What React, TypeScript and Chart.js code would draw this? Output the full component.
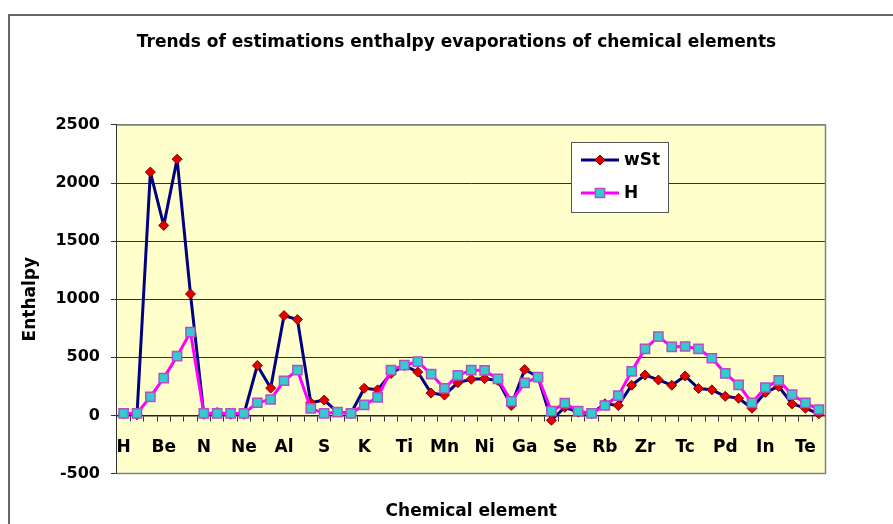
import React, { useEffect, useRef } from 'react';
import { Chart, registerables } from 'chart.js';

Chart.register(...registerables);

const categories = [
  'H', 'He', 'Li', 'Be', 'B', 'C', 'N', 'O', 'F', 'Ne',
  'Na', 'Mg', 'Al', 'Si', 'P', 'S', 'Cl', 'Ar', 'K', 'Ca',
  'Sc', 'Ti', 'V', 'Cr', 'Mn', 'Fe', 'Co', 'Ni', 'Cu', 'Zn',
  'Ga', 'Ge', 'As', 'Se', 'Br', 'Kr', 'Rb', 'Sr', 'Y', 'Zr',
  'Nb', 'Mo', 'Tc', 'Ru', 'Rh', 'Pd', 'Ag', 'Cd', 'In', 'Sn',
  'Sb', 'Te', 'I',
];

const wStValues = [
  15, 5, 2094, 1635, 2205, 1045, 10, 25, 10, 10,
  430, 235, 859, 825, 109, 132, 29, 17, 234, 220,
  360, 430, 373, 192, 175, 282, 311, 316, 300, 85,
  395, 330, -42, 70, 28, 15, 100, 85, 260, 348,
  305, 260, 339, 232, 220, 164, 147, 62, 198, 249,
  99, 62, 14,
];

const hValues = [
  17, 17, 160, 321, 510, 716, 17, 17, 17, 17,
  109, 137, 298, 390, 60, 17, 29, 17, 90, 155,
  390, 432, 463, 356, 232, 345, 390, 387, 314, 121,
  280, 330, 37, 105, 37, 17, 85, 170, 379, 573,
  678, 590, 593, 573, 492, 362, 263, 107, 240, 302,
  178, 107, 51,
];

const seriesNames = ['wSt', 'H'];
const yMin = -500;
const yMax = 2500;
const yStep = 500;
const labelEvery = 3;

const titleText = 'Trends of estimations enthalpy evaporations of chemical elements';
const xTitle = 'Chemical element';
const yTitle = 'Enthalpy';

const FONT = '"DejaVu Sans", "Liberation Sans", Arial, sans-serif';

const plotAreaPlugin = {
  id: 'plotArea',
  beforeDraw(chart: any) {
    const { ctx, chartArea } = chart;
    ctx.save();
    ctx.fillStyle = '#FFFFCC';
    ctx.fillRect(chartArea.left, chartArea.top, chartArea.right - chartArea.left, chartArea.bottom - chartArea.top);
    ctx.restore();
  },
  beforeDatasetsDraw(chart: any) {
    const { ctx, chartArea } = chart;
    ctx.save();
    ctx.strokeStyle = '#808080';
    ctx.lineWidth = 1.5;
    ctx.beginPath();
    ctx.moveTo(chartArea.left, chartArea.top);
    ctx.lineTo(chartArea.right, chartArea.top);
    ctx.lineTo(chartArea.right, chartArea.bottom);
    ctx.lineTo(chartArea.left, chartArea.bottom);
    ctx.stroke();
    ctx.restore();
  },
};

function drawMarker(ctx: CanvasRenderingContext2D, style: string, x: number, y: number, r: number) {
  ctx.beginPath();
  if (style === 'rectRot') {
    ctx.moveTo(x, y - r);
    ctx.lineTo(x + r, y);
    ctx.lineTo(x, y + r);
    ctx.lineTo(x - r, y);
    ctx.closePath();
  } else {
    const s = r * Math.SQRT1_2;
    ctx.rect(x - s, y - s, 2 * s, 2 * s);
  }
  ctx.fill();
  ctx.stroke();
}

const legendPlugin = {
  id: 'excelLegend',
  afterDraw(chart: any) {
    const { ctx, chartArea } = chart;
    const x0 = Math.round(chartArea.left + 454);
    const y0 = Math.round(chartArea.top + 17);
    const w = 97;
    const h = 70;
    ctx.save();
    ctx.fillStyle = '#ffffff';
    ctx.fillRect(x0, y0, w, h);
    ctx.strokeStyle = '#555555';
    ctx.lineWidth = 1;
    ctx.strokeRect(x0 + 0.5, y0 + 0.5, w, h);
    chart.data.datasets.forEach((ds: any, i: number) => {
      const cy = y0 + 18 + i * 33;
      const lx1 = x0 + 10;
      const lx2 = x0 + 48;
      ctx.strokeStyle = ds.borderColor;
      ctx.lineWidth = ds.borderWidth;
      ctx.beginPath();
      ctx.moveTo(lx1, cy);
      ctx.lineTo(lx2, cy);
      ctx.stroke();
      ctx.fillStyle = ds.pointBackgroundColor;
      ctx.strokeStyle = ds.pointBorderColor;
      ctx.lineWidth = ds.pointBorderWidth;
      drawMarker(ctx, ds.pointStyle, (lx1 + lx2) / 2, cy, ds.pointRadius);
      ctx.fillStyle = '#000';
      ctx.font = `bold 17px ${FONT}`;
      ctx.textBaseline = 'middle';
      ctx.textAlign = 'left';
      ctx.fillText(ds.label, x0 + 53, cy + 1);
    });
    ctx.restore();
  },
};

export default function App() {
  const canvasRef = useRef<HTMLCanvasElement | null>(null);

  useEffect(() => {
    const canvas = canvasRef.current;
    if (!canvas) return;
    const chart = new Chart(canvas, {
      type: 'line',
      data: {
        labels: categories,
        datasets: [
          {
            label: seriesNames[0],
            data: wStValues,
            borderColor: '#000080',
            borderWidth: 3,
            borderJoinStyle: 'round',
            pointStyle: 'rectRot',
            pointRadius: 5,
            pointBackgroundColor: '#E00000',
            pointBorderColor: '#8B0000',
            pointBorderWidth: 1,
            tension: 0,
            order: 1,
          },
          {
            label: seriesNames[1],
            data: hValues,
            borderColor: '#FF00FF',
            borderWidth: 3,
            borderJoinStyle: 'round',
            pointStyle: 'rect',
            pointRadius: 6.5,
            pointBackgroundColor: '#33CCCC',
            pointBorderColor: '#B050C8',
            pointBorderWidth: 1.5,
            tension: 0,
            order: 0,
          },
        ],
      },
      options: {
        responsive: false,
        animation: false,
        layout: { padding: { left: 10, right: 0, top: 0, bottom: 50.5 } },
        plugins: {
          legend: { display: false },
          tooltip: { enabled: false },
          title: {
            display: true,
            text: titleText,
            color: '#000',
            font: { family: FONT, size: 17, weight: 'bold' },
            padding: { top: 16, bottom: 72.5 },
          },
        },
        scales: {
          x: {
            type: 'category',
            position: { y: 0 } as any,
            offset: true,
            grid: {
              offset: true,
              drawOnChartArea: false,
              drawTicks: true,
              tickLength: 5,
              tickColor: '#333',
              color: '#333',
            },
            border: { display: true, color: '#222', width: 1.5 },
            ticks: {
              autoSkip: false,
              maxRotation: 0,
              minRotation: 0,
              padding: 17,
              color: '#000',
              font: { family: FONT, size: 17, weight: 'bold' },
              callback: (_v: any, i: number) => (i % labelEvery === 0 ? categories[i] : ''),
            },
            title: {
              display: true,
              text: xTitle,
              color: '#000',
              font: { family: FONT, size: 17, weight: 'bold' },
              padding: { top: 27, bottom: 0 },
            },
          },
          y: {
            min: yMin,
            max: yMax,
            grid: {
              color: (c: any) => (c.tick && (c.tick.value === yMin || c.tick.value === yMax) ? '#808080' : '#333'),
              tickColor: '#333',
              tickLength: 6,
              lineWidth: 1,
            },
            border: { display: true, color: '#333', width: 1 },
            ticks: {
              stepSize: yStep,
              padding: 11,
              color: '#000',
              font: { family: FONT, size: 16, weight: 'bold' },
              callback: (v: any) => String(v),
            },
            title: {
              display: true,
              text: yTitle,
              color: '#000',
              font: { family: FONT, size: 17, weight: 'bold' },
              padding: { top: 0, bottom: 4 },
            },
          },
          yRight: {
            position: 'right',
            display: true,
            grid: { display: false, drawTicks: false },
            border: { display: false },
            ticks: { display: false },
            afterFit: (scale: any) => {
              scale.width = 67.5;
            },
          },
        },
      },
      plugins: [plotAreaPlugin, legendPlugin],
    } as any);
    return () => chart.destroy();
  }, []);

  return (
    <div
      style={{
        position: 'fixed',
        left: 8,
        top: 14,
        width: 885,
        height: 510,
        boxSizing: 'border-box',
        borderTop: '2px solid #666',
        borderLeft: '2px solid #666',
        background: '#fff',
      }}
    >
      <canvas ref={canvasRef} width={883} height={508} style={{ display: 'block' }} />
    </div>
  );
}
